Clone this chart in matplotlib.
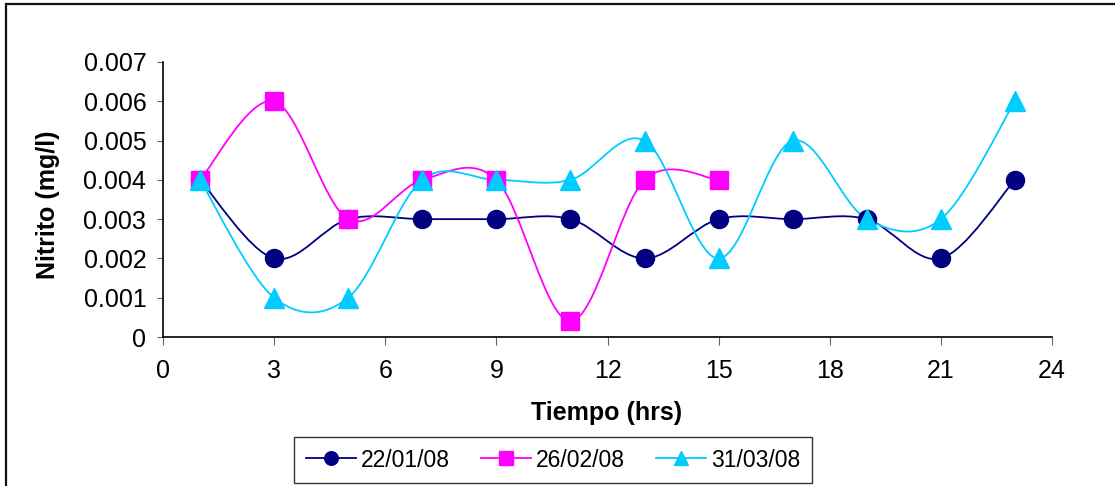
import numpy as np
import matplotlib
matplotlib.use("Agg")
import matplotlib.pyplot as plt
from matplotlib.path import Path
from matplotlib.patches import PathPatch, Rectangle
from matplotlib.ticker import MultipleLocator, FuncFormatter

plt.rcParams['font.family'] = ['Liberation Sans', 'DejaVu Sans']

# data
hours = [1, 3, 5, 7, 9, 11, 13, 15, 17, 19, 21, 23]
nit_220108 = [0.004, 0.002, 0.003, 0.003, 0.003, 0.003, 0.002, 0.003, 0.003, 0.003, 0.002, 0.004]
hours_feb = [1, 3, 5, 7, 9, 11, 13, 15]
nit_260208 = [0.004, 0.006, 0.003, 0.004, 0.004, 0.0004, 0.004, 0.004]
nit_310308 = [0.004, 0.001, 0.001, 0.004, 0.004, 0.004, 0.005, 0.002, 0.005, 0.003, 0.003, 0.006]
labels = ['22/01/08', '26/02/08', '31/03/08']
colors = ['#000080', '#FF00FF', '#00CCFF']
markers = ['o', 's', '^']


def smooth_path(x, y):
    # excel-like smoothed line: cubic bezier through every point
    x = np.asarray(x, float)
    y = np.asarray(y, float)
    verts = [(x[0], y[0])]
    codes = [Path.MOVETO]
    n = len(x)
    for i in range(n - 1):
        p0 = i - 1 if i > 0 else i
        p3 = i + 2 if i + 2 < n else i + 1
        c1 = (x[i] + (x[i + 1] - x[p0]) / 6, y[i] + (y[i + 1] - y[p0]) / 6)
        c2 = (x[i + 1] - (x[p3] - x[i]) / 6, y[i + 1] - (y[p3] - y[i]) / 6)
        verts += [c1, c2, (x[i + 1], y[i + 1])]
        codes += [Path.CURVE4] * 3
    return Path(verts, codes)


fig = plt.figure(figsize=(11.15, 4.86), dpi=100)
fig.patch.set_facecolor('white')
fig.add_artist(Rectangle((6 / 1115, -0.1), 1.2, 1.1 - 4 / 486, transform=fig.transFigure,
                         fill=False, edgecolor='#111111', linewidth=1.6))

ax = fig.add_axes([163 / 1115, 149 / 486, (1052 - 163) / 1115, (337 - 62) / 486])

series = [(hours, nit_220108), (hours_feb, nit_260208), (hours, nit_310308)]
for (xs, ys), lab, c, m in zip(series, labels, colors, markers):
    ax.add_patch(PathPatch(smooth_path(xs, ys), facecolor='none', edgecolor=c, lw=1.3, zorder=2))
    ms = 13 if m != '^' else 14
    ax.plot(xs, ys, linestyle='none', marker=m, color=c, markersize=ms, zorder=3)
    ax.plot([], [], color=c, marker=m, markersize=ms * 0.75, lw=1.3, label=lab)

ax.set_xlim(0, 24)
ax.set_ylim(0, 0.007)
ax.xaxis.set_major_locator(MultipleLocator(3))
ax.yaxis.set_major_locator(MultipleLocator(0.001))
ax.yaxis.set_major_formatter(FuncFormatter(lambda v, p: '0' if abs(v) < 1e-9 else '%.3f' % v))
ax.spines['top'].set_visible(False)
ax.spines['right'].set_visible(False)
ax.spines['left'].set_linewidth(1.2)
ax.spines['bottom'].set_linewidth(1.2)
ax.tick_params(axis='x', length=6, color='#666666', labelsize=18, pad=10)
ax.tick_params(axis='y', length=4, color='#666666', labelsize=18, pad=8)

fig.text(48 / 1115, 1 - 205 / 486, 'Nitrito (mg/l)', rotation=90, ha='center', va='center',
         fontsize=18, fontweight='bold')
fig.text(607 / 1115, 1 - 413 / 486, 'Tiempo (hrs)', ha='center', va='center',
         fontsize=18, fontweight='bold')

leg = fig.legend(loc='center', bbox_to_anchor=(553 / 1115, 1 - 460 / 486), ncol=3,
                 fontsize=16.5, frameon=True, fancybox=False, edgecolor='black',
                 handlelength=2.2, handletextpad=0.2, columnspacing=1.35,
                 borderpad=0.5, borderaxespad=0)
leg.get_frame().set_linewidth(1.0)

fig.savefig('out.png', dpi=100)
